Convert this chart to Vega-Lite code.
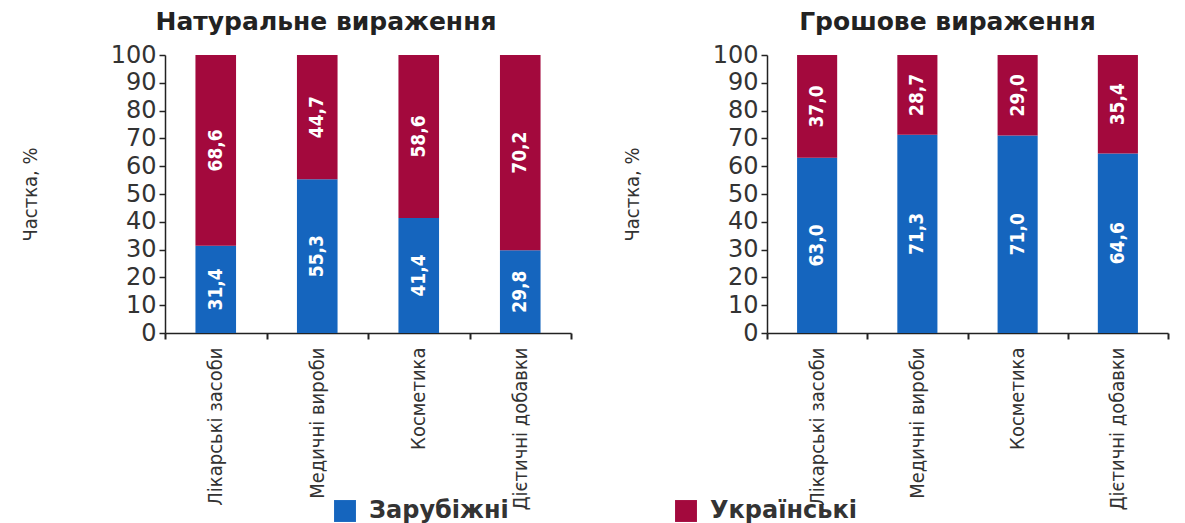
{
  "$schema": "https://vega.github.io/schema/vega-lite/v6.json",
  "padding": {"left": 20, "top": 10, "right": 5, "bottom": 5},
  "background": "white",
  "data": {
    "values": [
      {"measure": "Натуральне", "category": "Лікарські засоби", "origin": "Зарубіжні", "value": 31.4},
      {"measure": "Натуральне", "category": "Лікарські засоби", "origin": "Українські", "value": 68.6},
      {"measure": "Натуральне", "category": "Медичні вироби", "origin": "Зарубіжні", "value": 55.3},
      {"measure": "Натуральне", "category": "Медичні вироби", "origin": "Українські", "value": 44.7},
      {"measure": "Натуральне", "category": "Косметика", "origin": "Зарубіжні", "value": 41.4},
      {"measure": "Натуральне", "category": "Косметика", "origin": "Українські", "value": 58.6},
      {"measure": "Натуральне", "category": "Дієтичні добавки", "origin": "Зарубіжні", "value": 29.8},
      {"measure": "Натуральне", "category": "Дієтичні добавки", "origin": "Українські", "value": 70.2},
      {"measure": "Грошове", "category": "Лікарські засоби", "origin": "Зарубіжні", "value": 63.0},
      {"measure": "Грошове", "category": "Лікарські засоби", "origin": "Українські", "value": 37.0},
      {"measure": "Грошове", "category": "Медичні вироби", "origin": "Зарубіжні", "value": 71.3},
      {"measure": "Грошове", "category": "Медичні вироби", "origin": "Українські", "value": 28.7},
      {"measure": "Грошове", "category": "Косметика", "origin": "Зарубіжні", "value": 71.0},
      {"measure": "Грошове", "category": "Косметика", "origin": "Українські", "value": 29.0},
      {"measure": "Грошове", "category": "Дієтичні добавки", "origin": "Зарубіжні", "value": 64.6},
      {"measure": "Грошове", "category": "Дієтичні добавки", "origin": "Українські", "value": 35.4}
    ]
  },
  "spacing": 50,
  "hconcat": [
    {
      "title": {"text": "Натуральне вираження", "dx": -42},
      "width": 406,
      "height": 278,
      "transform": [{"filter": "datum.measure === 'Натуральне'"}],
      "encoding": {
        "x": {
          "field": "category", "type": "nominal",
          "sort": ["Лікарські засоби", "Медичні вироби", "Косметика", "Дієтичні добавки"],
          "scale": {"paddingInner": 0, "paddingOuter": 0},
          "axis": {"title": null}
        },
        "y": {
          "field": "value", "type": "quantitative", "stack": "zero",
          "scale": {"domain": [0, 100]},
          "axis": {"title": "Частка, %", "values": [0,10,20,30,40,50,60,70,80,90,100]}
        },
        "order": {"field": "origin", "sort": "ascending"}
      },
      "layer": [
        {
          "mark": {"type": "bar", "width": {"band": 0.4}},
          "encoding": {
            "color": {
              "field": "origin", "type": "nominal",
              "scale": {"domain": ["Зарубіжні", "Українські"], "range": ["#1565BE", "#A3093D"]},
              "legend": {"title": null, "orient": "none", "direction": "horizontal", "legendX": 168, "legendY": 444}
            }
          }
        },
        {
          "mark": {"type": "text", "angle": 270, "color": "white", "font": "DejaVu Sans Condensed", "fontSize": 19, "fontWeight": "bold", "align": "center", "baseline": "middle"},
          "encoding": {
            "y": {"field": "value", "type": "quantitative", "stack": "zero", "bandPosition": 0.5},
            "detail": {"field": "origin"},
            "text": {"field": "value", "type": "quantitative", "format": ".1f"}
          }
        }
      ]
    },
    {
      "title": {"text": "Грошове вираження", "dx": -20},
      "width": 401,
      "height": 278,
      "transform": [{"filter": "datum.measure === 'Грошове'"}],
      "encoding": {
        "x": {
          "field": "category", "type": "nominal",
          "sort": ["Лікарські засоби", "Медичні вироби", "Косметика", "Дієтичні добавки"],
          "scale": {"paddingInner": 0, "paddingOuter": 0},
          "axis": {"title": null}
        },
        "y": {
          "field": "value", "type": "quantitative", "stack": "zero",
          "scale": {"domain": [0, 100]},
          "axis": {"title": "Частка, %", "values": [0,10,20,30,40,50,60,70,80,90,100]}
        },
        "order": {"field": "origin", "sort": "ascending"}
      },
      "layer": [
        {
          "mark": {"type": "bar", "width": {"band": 0.4}},
          "encoding": {
            "color": {
              "field": "origin", "type": "nominal",
              "scale": {"domain": ["Зарубіжні", "Українські"], "range": ["#1565BE", "#A3093D"]},
              "legend": {"title": null, "orient": "none", "direction": "horizontal", "legendX": 168, "legendY": 444}
            }
          }
        },
        {
          "mark": {"type": "text", "angle": 270, "color": "white", "font": "DejaVu Sans Condensed", "fontSize": 19, "fontWeight": "bold", "align": "center", "baseline": "middle"},
          "encoding": {
            "y": {"field": "value", "type": "quantitative", "stack": "zero", "bandPosition": 0.5},
            "detail": {"field": "origin"},
            "text": {"field": "value", "type": "quantitative", "format": ".1f"}
          }
        }
      ]
    }
  ],
  "resolve": {"scale": {"color": "shared"}, "legend": {"color": "shared"}},
  "config": {
    "locale": {"number": {"decimal": ",", "thousands": " ", "grouping": [3], "currency": ["", ""]}},
    "view": {"stroke": null},
    "title": {"font": "DejaVu Sans", "fontWeight": "bold", "fontSize": 25, "color": "#222222", "anchor": "middle", "offset": 8},
    "axisX": {
      "labelAngle": 270, "labelAlign": "right", "labelBaseline": "middle",
      "labelFont": "DejaVu Sans Condensed", "labelFontSize": 20, "labelColor": "#333333",
      "labelPadding": 8, "labelLimit": 300,
      "tickBand": "extent", "tickSize": 6, "tickColor": "#222222", "tickWidth": 2,
      "domainColor": "#222222", "domainWidth": 1.5, "grid": false
    },
    "axisY": {
      "labelFont": "DejaVu Sans", "labelFontSize": 24, "labelColor": "#333333",
      "labelPadding": 3, "tickSize": 6, "tickColor": "#222222", "tickWidth": 1.5,
      "domainColor": "#222222", "domainWidth": 1.5, "grid": false,
      "titleFont": "DejaVu Sans Condensed", "titleFontSize": 20, "titleFontWeight": "normal", "titleColor": "#333333",
      "titleX": -125, "titleY": 139
    },
    "legend": {
      "symbolType": "square", "symbolSize": 480, "symbolStrokeWidth": 0,
      "labelFont": "DejaVu Sans", "labelFontSize": 24, "labelFontWeight": "bold", "labelColor": "#333333",
      "labelOffset": 12, "columnPadding": 165, "labelLimit": 400
    }
  }
}
